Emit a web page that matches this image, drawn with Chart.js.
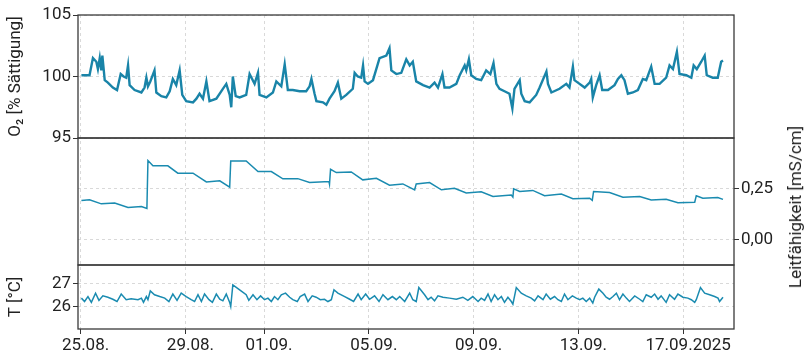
<!DOCTYPE html>
<html>
<head>
<meta charset="utf-8">
<script src="https://cdn.jsdelivr.net/npm/chart.js@4.4.1/dist/chart.umd.min.js"></script>
<style>
  body { margin: 0; background: #fff; }
  #wrap { position: relative; width: 805px; height: 358px; }
  #rightTitle {
    position: absolute; left: 795px; top: 207px;
    transform: translate(-50%, -50%) rotate(-90deg);
    font: 17px Roboto, sans-serif; color: #222; white-space: nowrap;
  }
</style>
</head>
<body>
<div id="wrap">
  <canvas id="chart" width="805" height="358"></canvas>
  <div id="rightTitle">Leitfähigkeit [mS/cm]</div>
</div>
<script>
// days since 25.08.2025
const tickDays = [0, 4, 7, 11, 15, 19, 23];
const tickLabels = ['25.08.', '29.08.', '01.09.', '05.09.', '09.09.', '13.09.', '17.09.2025'];

const o2Days = [0.03,0.34,0.47,0.60,0.66,0.73,0.79,0.83,0.92,1.04,1.23,1.39,1.53,1.64,1.74,1.81,1.87,2.06,2.32,2.44,
  2.51,2.57,2.66,2.82,2.89,3.08,3.27,3.40,3.52,3.65,3.78,3.88,4.03,4.29,4.42,4.54,4.67,4.80,4.92,5.18,
  5.43,5.56,5.69,5.75,5.81,5.92,6.07,6.32,6.45,6.64,6.77,6.83,7.09,7.34,7.47,7.66,7.79,7.91,8.10,8.36,
  8.61,8.74,8.81,8.93,9.00,9.25,9.38,9.50,9.69,9.82,9.95,10.14,10.39,10.46,10.58,10.71,10.78,10.84,10.97,11.16,
  11.41,11.67,11.79,11.86,12.05,12.24,12.43,12.56,12.68,12.81,13.07,13.32,13.51,13.64,13.81,13.89,14.08,14.34,14.47,14.66,
  14.72,14.82,14.91,15.10,15.29,15.48,15.64,15.76,15.87,15.99,16.18,16.37,16.48,16.56,16.76,16.82,16.95,17.14,17.39,17.52,
  17.78,17.84,17.97,18.28,18.54,18.66,18.79,18.85,18.98,19.24,19.43,19.49,19.55,19.68,19.81,19.91,20.13,20.38,20.51,20.64,
  20.76,20.89,21.08,21.27,21.46,21.59,21.78,21.91,22.10,22.35,22.48,22.61,22.76,22.86,23.12,23.31,23.40,23.52,23.69,23.82,
  23.90,24.13,24.32,24.39,24.45,24.52];
const o2Values = [100.1,100.1,101.5,101.2,100.6,101.5,100.5,101.7,99.7,99.5,99.1,98.9,100.2,100.0,99.9,100.9,99.3,98.9,98.7,99.1,
  99.9,99.2,99.6,100.5,98.7,98.4,98.3,98.8,99.8,99.3,100.5,98.5,98.0,97.9,98.2,98.6,98.2,99.6,98.0,98.2,
  99.0,99.4,98.5,97.5,100.0,98.4,98.3,98.5,100.2,99.4,100.3,98.5,98.3,98.7,99.6,99.2,101.0,98.9,98.9,98.8,
  98.8,99.2,99.8,98.6,98.0,97.9,97.7,98.2,98.8,99.5,98.2,98.5,99.0,100.3,100.0,99.9,100.9,99.6,99.4,99.7,
  101.5,101.7,102.3,100.5,100.2,100.3,101.4,100.9,101.2,99.6,99.3,99.1,99.5,99.1,100.2,99.1,99.1,99.4,100.1,100.9,
  100.5,101.4,100.1,99.8,99.7,100.5,100.2,101.1,99.4,99.0,98.8,98.6,97.4,99.0,99.7,98.6,98.0,97.9,98.5,99.1,
  100.4,99.4,98.7,99.0,99.4,99.1,100.8,99.7,99.5,99.1,99.5,99.8,98.3,99.3,100.1,98.9,98.9,99.3,99.8,100.1,
  99.7,98.6,98.7,98.9,99.8,99.7,100.8,99.4,99.4,99.9,100.9,100.6,102.0,100.2,100.1,99.9,100.9,100.6,101.2,101.7,
  100.1,99.9,99.9,100.6,101.2,101.3];

const condDays = [0.03,0.34,0.79,1.30,1.81,2.32,2.53,2.57,2.76,3.33,3.71,4.29,4.80,5.31,5.69,5.73,6.32,6.77,7.28,7.72,
  8.29,8.74,9.48,9.50,9.54,9.76,10.33,10.77,11.29,11.79,12.30,12.75,12.81,13.32,13.77,14.27,14.72,15.29,15.74,16.44,
  16.50,16.53,16.76,17.26,17.71,18.35,18.79,19.43,19.53,19.58,20.19,20.70,21.34,21.78,22.35,22.80,23.44,23.50,23.75,24.32,
  24.52];
const condValues = [0.193,0.196,0.176,0.180,0.158,0.163,0.153,0.389,0.363,0.363,0.327,0.327,0.284,0.289,0.258,0.387,0.387,0.335,0.335,0.299,
  0.300,0.281,0.286,0.273,0.346,0.330,0.333,0.294,0.302,0.268,0.274,0.245,0.274,0.281,0.245,0.253,0.229,0.235,0.212,0.219,
  0.209,0.250,0.237,0.242,0.216,0.224,0.201,0.204,0.193,0.237,0.232,0.209,0.212,0.195,0.198,0.181,0.184,0.216,0.204,0.207,
  0.198];

const tempDays = [0.03,0.15,0.28,0.41,0.57,0.70,0.85,1.04,1.23,1.39,1.55,1.74,1.93,2.19,2.32,2.40,2.51,2.57,2.66,2.82,
  3.02,3.21,3.37,3.52,3.68,3.84,4.03,4.22,4.35,4.48,4.61,4.73,4.90,5.03,5.18,5.31,5.43,5.56,5.69,5.73,
  5.81,6.07,6.32,6.42,6.58,6.73,6.87,7.02,7.15,7.28,7.40,7.53,7.66,7.82,7.98,8.10,8.27,8.38,8.55,8.68,
  8.84,8.99,9.15,9.31,9.44,9.57,9.67,9.82,10.08,10.27,10.42,10.59,10.71,10.88,11.03,11.22,11.39,11.54,11.73,11.90,
  12.05,12.18,12.37,12.56,12.68,12.81,12.91,13.13,13.26,13.38,13.51,13.64,13.83,14.08,14.34,14.59,14.78,14.97,15.17,15.29,
  15.42,15.55,15.67,15.80,15.93,16.06,16.18,16.31,16.44,16.50,16.63,16.82,17.01,17.20,17.33,17.46,17.65,17.77,17.93,18.09,
  18.22,18.35,18.47,18.60,18.77,18.92,19.05,19.17,19.30,19.43,19.55,19.62,19.78,19.94,20.06,20.19,20.32,20.45,20.57,20.70,
  20.83,20.95,21.15,21.34,21.46,21.59,21.78,21.91,22.04,22.16,22.35,22.48,22.67,22.80,22.99,23.18,23.31,23.44,23.50,23.66,
  23.82,24.01,24.20,24.33,24.39,24.52];
const tempValues = [26.37,26.22,26.44,26.18,26.59,26.27,26.47,26.41,26.32,26.22,26.55,26.30,26.34,26.30,26.37,26.18,26.44,26.30,26.69,26.52,
  26.44,26.37,26.22,26.55,26.27,26.59,26.44,26.30,26.22,26.52,26.22,26.55,26.30,26.18,26.55,26.32,26.25,26.55,26.18,26.00,
  26.96,26.74,26.52,26.27,26.52,26.30,26.47,26.30,26.37,26.22,26.44,26.30,26.52,26.59,26.41,26.30,26.22,26.44,26.55,26.22,
  26.47,26.41,26.30,26.32,26.22,26.30,26.74,26.59,26.44,26.32,26.22,26.55,26.30,26.55,26.32,26.47,26.22,26.52,26.30,26.44,
  26.30,26.44,26.22,26.59,26.30,26.22,26.84,26.52,26.30,26.41,26.25,26.47,26.41,26.37,26.32,26.41,26.27,26.44,26.22,26.37,
  26.27,26.55,26.22,26.52,26.30,26.44,26.18,26.41,26.22,26.10,26.84,26.59,26.47,26.37,26.25,26.47,26.30,26.55,26.32,26.44,
  26.30,26.22,26.55,26.30,26.47,26.37,26.30,26.37,26.22,26.37,26.15,26.41,26.77,26.59,26.41,26.32,26.44,26.59,26.30,26.55,
  26.37,26.22,26.47,26.32,26.22,26.52,26.41,26.55,26.32,26.47,26.18,26.52,26.32,26.55,26.41,26.37,26.30,26.18,26.30,26.84,
  26.59,26.52,26.44,26.37,26.22,26.41];

const condTicks = [0, 0.25];
const tempTicks = [26, 27];

const font = { family: 'Roboto, "Noto Sans", sans-serif', size: 17 };
const textColor = '#222';
const gridColor = '#d9d9d9';
const lineColor = '#1a8bb0';

function pts(xs, ys) {
  return xs.map((x, i) => ({ x: x, y: ys[i] }));
}

const panelBox = {
  id: 'panelBox',
  afterDraw(chart) {
    const { ctx, chartArea } = chart;
    ctx.save();
    ctx.strokeStyle = '#3a3a3a';
    ctx.lineWidth = 1.3;
    ['y', 'ycl', 'yt'].forEach(function(id) {
      const s = chart.scales[id];
      ctx.strokeRect(chartArea.left, s.top, chartArea.right - chartArea.left, s.bottom - s.top);
    });
    ctx.restore();
  }
};

const blankAxis = (pos, stack, weight, stackWeight, width) => ({
  position: pos, stack: stack, weight: weight, stackWeight: stackWeight,
  min: 0, max: 1,
  ticks: { display: false },
  grid: { display: false },
  border: { display: false },
  afterFit: s => { s.width = width; }
});

new Chart(document.getElementById('chart').getContext('2d'), {
  type: 'line',
  data: {
    datasets: [
      { data: pts(o2Days, o2Values), yAxisID: 'y', borderColor: '#1984a8', borderWidth: 2.4 },
      { data: pts(condDays, condValues), yAxisID: 'ycr', borderColor: lineColor, borderWidth: 1.5 },
      { data: pts(tempDays, tempValues), yAxisID: 'yt', borderColor: lineColor, borderWidth: 1.5 }
    ]
  },
  options: {
    responsive: false,
    animation: false,
    elements: { point: { radius: 0 }, line: { tension: 0 } },
    layout: { padding: { top: 15, left: 0, right: 0, bottom: 0 } },
    plugins: { legend: { display: false }, tooltip: { enabled: false } },
    scales: {
      x: {
        type: 'linear', min: -0.1, max: 24.94,
        afterBuildTicks: s => { s.ticks = tickDays.map(v => ({ value: v })); },
        afterFit: s => { s.height = 29; },
        ticks: { callback: (v, i) => tickLabels[i], autoSkip: false, maxRotation: 0,
                 font: font, color: textColor, labelOffset: 5, padding: 2 },
        grid: { color: gridColor, tickColor: '#333', tickLength: 5 },
        border: { display: false, dash: [3, 3] }
      },
      y: {
        position: 'left', stack: 'L', weight: 3, stackWeight: 123,
        min: 95, max: 105,
        ticks: { stepSize: 5, font: font, color: textColor, padding: 2 },
        grid: { color: gridColor, tickColor: '#333', tickLength: 5 },
        border: { display: false, dash: [3, 3] },
        title: { display: true, text: 'O₂ [% Sättigung]', font: font, color: textColor, padding: { top: 6, bottom: 2 } },
        afterFit: s => { s.width = 78; }
      },
      ycl: blankAxis('left', 'L', 2, 127, 78),
      yt: {
        position: 'left', stack: 'L', weight: 1, stackWeight: 64,
        min: 25, max: 27.84,
        afterBuildTicks: s => { s.ticks = tempTicks.map(v => ({ value: v })); },
        ticks: { font: font, color: textColor, padding: 2 },
        grid: { color: gridColor, tickColor: '#333', tickLength: 5 },
        border: { display: false, dash: [3, 3] },
        title: { display: true, text: 'T [°C]', font: font, color: textColor, padding: { top: 6, bottom: 2 } },
        afterFit: s => { s.width = 78; }
      },
      yr1: blankAxis('right', 'R', 1, 123, 71),
      ycr: {
        position: 'right', stack: 'R', weight: 2, stackWeight: 127,
        min: -0.125, max: 0.5,
        afterBuildTicks: s => { s.ticks = condTicks.map(v => ({ value: v })); },
        ticks: { font: font, color: textColor, padding: 2,
                 callback: v => v.toFixed(2).replace('.', ',') },
        grid: { color: gridColor, tickColor: '#333', tickLength: 5 },
        border: { display: false, dash: [3, 3] },
        afterFit: s => { s.width = 71; }
      },
      yr3: blankAxis('right', 'R', 3, 64, 71)
    }
  },
  plugins: [panelBox]
});
</script>
</body>
</html>
